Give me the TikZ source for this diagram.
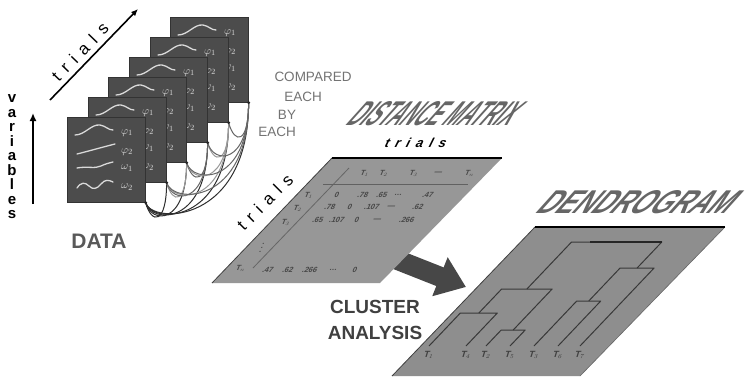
\documentclass[tikz,border=0pt]{standalone}
\usepackage{fontspec}
\setmainfont{Liberation Sans}
\usepackage{graphicx}
\usetikzlibrary{calc,arrows.meta}
\definecolor{cardfill}{HTML}{4C4C4C}
\definecolor{curvecol}{HTML}{D9D9D9}
\definecolor{matfill}{HTML}{979797}
\definecolor{dendfill}{HTML}{8E8E8E}
\begin{document}
\begin{tikzpicture}[x=1pt,y=-1pt,
  card/.style={draw=black!80, line width=0.6pt, fill=cardfill, minimum width=78pt, minimum height=85pt, inner sep=0pt, anchor=north west},
  wave/.style={draw=curvecol, line width=1.3pt, line cap=round},
  cardlab/.style={text=curvecol, font=\fontsize{11}{11}\selectfont, inner sep=0pt},
  arcline/.style={line width=1pt},
  axisarrow/.style={line width=1.6pt, -{Latex[length=7pt,width=6pt]}},
  graytext/.style={text=black!55, font=\fontsize{13.5}{13.5}\selectfont, inner sep=0pt},
  bigtext/.style={font=\bfseries\fontsize{19}{19}\selectfont, text=black!75, inner sep=0pt},
  title/.style={xslant=0.9, inner sep=0pt, font=\bfseries, text=black!60},
  cell/.style={font=\bfseries\fontsize{7.5}{7.5}\selectfont, text=black!72, inner sep=0pt, xslant=0.4},
  dline/.style={draw=black!78, line width=1pt, line join=round},
  leaf/.style={font=\bfseries\fontsize{9}{9}\selectfont, text=black!75, inner sep=0pt, xslant=0.3}
]
\useasboundingbox[fill=white] (0,0) rectangle (752,381);

% ---------------- data cards ----------------
\foreach \i/\x/\y in {6/170/17,5/150/37,4/129/57,3/108/77,2/88/97,1/67/117}{
  \node[card] (c\i) at (\x,\y) {};
  \begin{scope}[shift={(c\i.north west)}]
    \draw[wave] (8,18) .. controls (18,18) and (24,7) .. (33,8) .. controls (39,9) and (41,13) .. (46,13);
    \draw[wave] (10,37) .. controls (22,34) and (36,30) .. (48,27);
    \draw[wave] (10,51) .. controls (20,49) and (28,52) .. (34,49) .. controls (38,47) and (42,46) .. (46,45);
    \draw[wave] (10,71) .. controls (14,65) and (18,65) .. (22,69) .. controls (26,73) and (30,72) .. (34,67) .. controls (38,62) and (42,63) .. (46,65);
    \node[cardlab] (p1c\i) at (60,16) {$\varphi_1$};
    \node[cardlab] (p2c\i) at (60,35) {$\varphi_2$};
    \node[cardlab] (o1c\i) at (60,51) {$\omega_1$};
    \node[cardlab] (o2c\i) at (60,70) {$\omega_2$};
  \end{scope}
}

% comparison arcs
\foreach \i in {2,...,6}{
  \pgfmathtruncatemacro{\jmax}{\i-1}
  \foreach \j in {1,...,\jmax}{
    \pgfmathsetmacro{\dd}{20*(\i-\j)+22}
    \ifnum\j=1 \def\arccol{black!82}\else\ifodd\i \def\arccol{black!40}\else\def\arccol{black!60}\fi\fi
    \draw[arcline, draw=\arccol] (c\i.south east) .. controls +(0,\dd) and +(6,22) .. (c\j.south east);
  }
}
\foreach \i in {1,...,6}{ \fill[black!85] (c\i.south east) circle (1.7); }

% axes of data
\coordinate (ta0) at (50,100);
\coordinate (ta1) at (138,9);
\draw[axisarrow] (ta0) -- (ta1);
\node[rotate=46, font=\fontsize{17}{17}\selectfont, inner sep=0pt] (ttrials) at (80,52)
  {t\hspace{7.5pt}r\hspace{7.5pt}i\hspace{7.5pt}a\hspace{7.5pt}l\hspace{7.5pt}s};

\coordinate (va0) at (33,204);
\coordinate (va1) at (33,113);
\draw[line width=2pt, -{Latex[length=8pt,width=7pt]}] (va0) -- (va1);
\node[font=\bfseries\fontsize{15}{14.5}\selectfont, align=center, inner sep=0pt] (vars) at (12,157)
  {v\\a\\r\\i\\a\\b\\l\\e\\s};

\node[font=\bfseries\fontsize{21}{21}\selectfont, text=black!65, inner sep=0pt] (data) at (99,241) {DATA};

\node[graytext] (cmp1) at (313,77) {COMPARED};
\node[graytext] (cmp2) at (303,97) {EACH};
\node[graytext] (cmp3) at (287,115) {BY};
\node[graytext] (cmp4) at (277,132) {EACH};

% ---------------- dendrogram ----------------
\coordinate (d1) at (392,376);
\coordinate (d2) at (580,376);
\coordinate (d3) at (725,227);
\coordinate (d4) at (535,227);
\fill[dendfill] (d1) -- (d2) -- (d3) -- (d4) -- cycle;
\draw[black!75, line width=0.8pt] (d1) -- (d4);
\draw[black!60, line width=0.6pt] (d2) -- (d3);
\draw[black, line width=1.8pt] (d4) -- (d3);

\draw[dline] (429,346) -- (460.35,313) -- (497.35,313) -- (466,346);
\draw[dline] (486,346) -- (501.2,330) -- (525.2,330) -- (510,346);
\draw[dline] (534,346) -- (576.75,301) -- (600.75,301) -- (558,346);
\draw[dline] (478.85,313) -- (501.65,289) -- (552.15,289) -- (513.2,330);
\draw[dline] (588.75,301) -- (620.1,268) -- (654.1,268) -- (580,346);
\draw[dline] (526.9,289) -- (571.55,242) -- (661.8,242) -- (637.1,268);
\draw[black!85, line width=1.5pt] (590,242) -- (661.8,242);

\foreach \x/\t [count=\k] in {429/1,466/4,486/2,510/5,534/3,558/6,580/7}{
  \node[leaf] (lf\k) at (\x,355) {T$_{\t}$};
}

\node[title] (dgtitle) at (640,202.5) {\resizebox{192pt}{23pt}{DENDROGRAM}};

% ---------------- big arrow ----------------
\coordinate (ba0) at (385,255);
\coordinate (ba1) at (466,287);
\draw[draw=black!72, line width=20pt, -{Triangle[length=28pt,width=40pt]}] (ba0) -- (ba1);

% ---------------- distance matrix ----------------
\coordinate (m1) at (212,283);
\coordinate (m2) at (380,283);
\coordinate (m3) at (502,158);
\coordinate (m4) at (332,158);
\fill[matfill] (m1) -- (m2) -- (m3) -- (m4) -- cycle;
\draw[black!75, line width=0.8pt] (m1) -- (m4);
\draw[black, line width=1.8pt] (m4) -- (m3);

\coordinate (dv0) at (349,168);
\coordinate (dv1) at (253,268);
\draw[black!60, line width=0.8pt] (dv0) -- (dv1);
\coordinate (hl0) at (323,184);
\coordinate (hl1) at (468,184);
\draw[black!62, line width=1pt] (hl0) -- (hl1);

\foreach \x/\t [count=\k] in {365/T$_1$,384/T$_2$,414/T$_3$,438/---,470/T$_n$}{
  \node[cell] (hd\k) at (\x,173) {\t};
}
\foreach \x/\y/\t [count=\k] in {309/195/T$_1$,298/208/T$_2$,286/222/T$_3$,263/245/$\vdots$,241/268/T$_n$}{
  \node[cell] (rl\k) at (\x,\y) {\t};
}
\foreach \x/\t [count=\k] in {337/0,363/.78,382/.65,398/\ldots,428/.47}{
  \node[cell] (ra\k) at (\x,195) {\t};
}
\foreach \x/\t [count=\k] in {330/.78,350/0,372/.107,391/---,418/.62}{
  \node[cell] (rb\k) at (\x,207) {\t};
}
\foreach \x/\t [count=\k] in {318/.65,337/.107,357/0,377/---,407/.266}{
  \node[cell] (rc\k) at (\x,220) {\t};
}
\foreach \x/\t [count=\k] in {268/.47,288/.62,310/.266,333/\ldots,355/0}{
  \node[cell] (rn\k) at (\x,270) {\t};
}

\node[title] (dmtitle) at (436.5,113.5) {\resizebox{163pt}{24pt}{DISTANCE MATRIX}};

\node[font=\bfseries\itshape\fontsize{13}{13}\selectfont, inner sep=0pt, xslant=0.3] (mtrials) at (416,143)
  {t\hspace{6pt}r\hspace{6pt}i\hspace{6pt}a\hspace{6pt}l\hspace{6pt}s};
\node[rotate=45, font=\fontsize{17}{17}\selectfont, inner sep=0pt] (ltrials) at (265,202)
  {t\hspace{7pt}r\hspace{7pt}i\hspace{7pt}a\hspace{7pt}l\hspace{7pt}s};

\node[bigtext] (cl1) at (375,307) {CLUSTER};
\node[bigtext] (cl2) at (375,333) {ANALYSIS};
\end{tikzpicture}
\end{document}
